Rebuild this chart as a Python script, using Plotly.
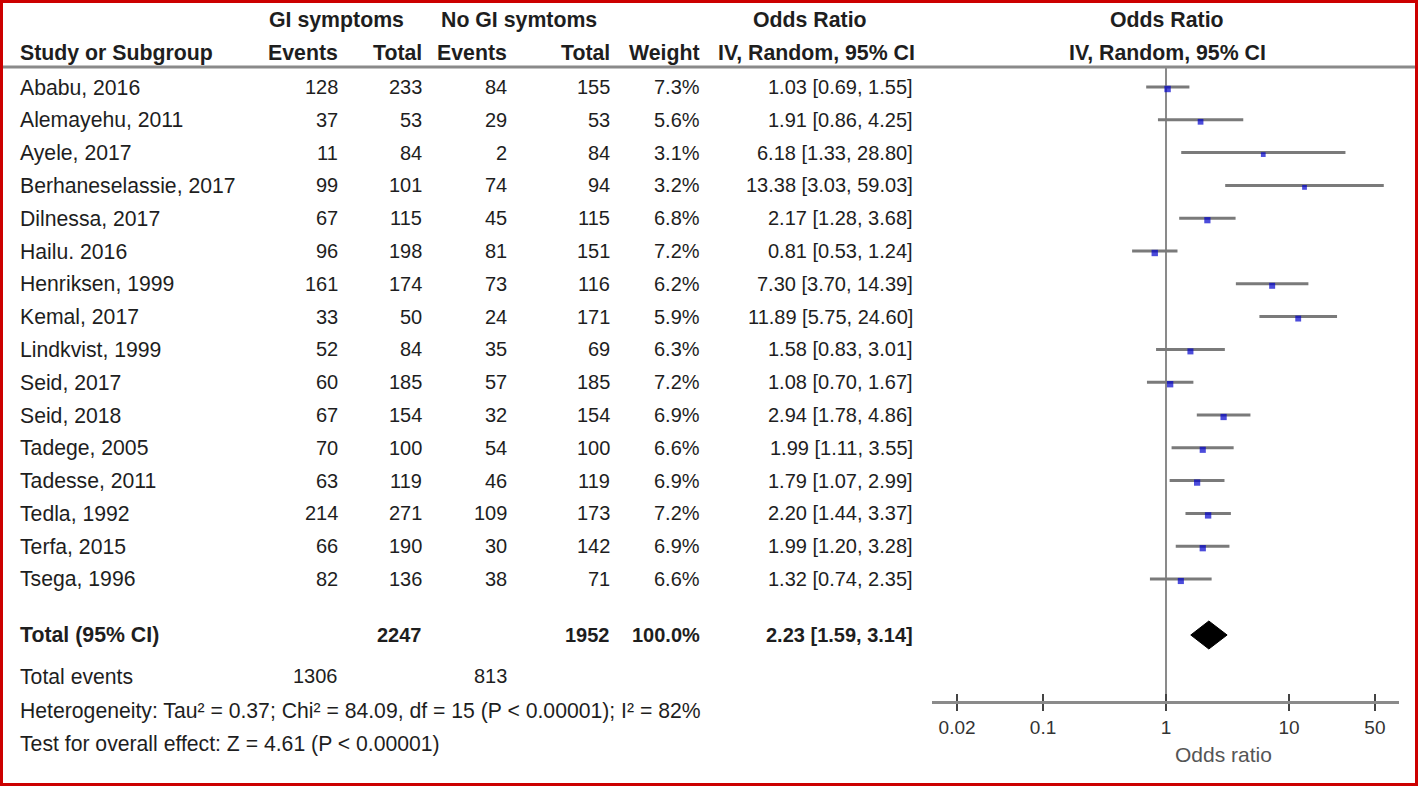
import numpy as np
import plotly.graph_objects as go

# ---- data ----
studies = ["Ababu, 2016", "Alemayehu, 2011", "Ayele, 2017", "Berhaneselassie, 2017",
           "Dilnessa, 2017", "Hailu. 2016", "Henriksen, 1999", "Kemal, 2017",
           "Lindkvist, 1999", "Seid, 2017", "Seid, 2018", "Tadege, 2005",
           "Tadesse, 2011", "Tedla, 1992", "Terfa, 2015", "Tsega, 1996"]
gi_events = [128, 37, 11, 99, 67, 96, 161, 33, 52, 60, 67, 70, 63, 214, 66, 82]
gi_total = [233, 53, 84, 101, 115, 198, 174, 50, 84, 185, 154, 100, 119, 271, 190, 136]
nogi_events = [84, 29, 2, 74, 45, 81, 73, 24, 35, 57, 32, 54, 46, 109, 30, 38]
nogi_total = [155, 53, 84, 94, 115, 151, 116, 171, 69, 185, 154, 100, 119, 173, 142, 71]
weight = [7.3, 5.6, 3.1, 3.2, 6.8, 7.2, 6.2, 5.9, 6.3, 7.2, 6.9, 6.6, 6.9, 7.2, 6.9, 6.6]
odds = [1.03, 1.91, 6.18, 13.38, 2.17, 0.81, 7.30, 11.89, 1.58, 1.08, 2.94, 1.99, 1.79, 2.20, 1.99, 1.32]
ci_lo = [0.69, 0.86, 1.33, 3.03, 1.28, 0.53, 3.70, 5.75, 0.83, 0.70, 1.78, 1.11, 1.07, 1.44, 1.20, 0.74]
ci_hi = [1.55, 4.25, 28.80, 59.03, 3.68, 1.24, 14.39, 24.60, 3.01, 1.67, 4.86, 3.55, 2.99, 3.37, 3.28, 2.35]

total_gi, total_nogi = 2247, 1952
total_weight = 100.0
events_gi, events_nogi = 1306, 813
pooled_or, pooled_lo, pooled_hi = 2.23, 1.59, 3.14
heterogeneity = "Heterogeneity: Tau² = 0.37; Chi² = 84.09, df = 15 (P < 0.00001); I² = 82%"
overall = "Test for overall effect: Z = 4.61 (P < 0.00001)"

tick_vals = [0.02, 0.1, 1, 10, 50]
tick_text = ["0.02", "0.1", "1", "10", "50"]

# ---- layout helpers (pixel coords) ----
W, H = 1418, 786
FONT = "Liberation Sans, Arial, sans-serif"
TXT = "#1e1e1e"
row_y = [87 + i * 32.8 for i in range(len(studies))]
y_total, y_events, y_het, y_test = 635, 676, 711, 744
y_axis = 702

fig = go.Figure()
ann = []


def txt(x, y, s, anchor="right", bold=False, color=TXT, size=20):
    ann.append(dict(x=x / W, y=y, xref="paper", yref="y", text=f"<b>{s}</b>" if bold else s,
                    showarrow=False, xanchor=anchor, yanchor="middle",
                    font=dict(family=FONT, size=size, color=color)))


# headers
HB = 21.3
txt(336, 20, "GI symptoms", "center", True, size=HB)
txt(519, 20, "No GI symtoms", "center", True, size=HB)
txt(810, 20, "Odds Ratio", "center", True, size=HB)
txt(1167, 20, "Odds Ratio", "center", True, size=HB)
txt(18, 53, "Study or Subgroup", "left", True, size=HB)
txt(340, 53, "Events", bold=True, size=HB)
txt(424, 53, "Total", bold=True, size=HB)
txt(509, 53, "Events", bold=True, size=HB)
txt(612, 53, "Total", bold=True, size=HB)
txt(702, 53, "Weight", bold=True, size=HB)
txt(917, 53, "IV, Random, 95% CI", bold=True, size=HB)
txt(1167, 53, "IV, Random, 95% CI", "center", True, size=HB)

for i, y in enumerate(row_y):
    txt(18, y, studies[i], "left", size=21.2)
    txt(340, y, str(gi_events[i]))
    txt(424, y, str(gi_total[i]))
    txt(509, y, str(nogi_events[i]))
    txt(612, y, str(nogi_total[i]))
    txt(702, y, f"{weight[i]:.1f}%")
    txt(915, y, f"{odds[i]:.2f} [{ci_lo[i]:.2f}, {ci_hi[i]:.2f}]")

txt(18, y_total, "Total (95% CI)", "left", True, size=HB)
txt(424, y_total, str(total_gi), bold=True)
txt(612, y_total, str(total_nogi), bold=True)
txt(702, y_total, f"{total_weight:.1f}%", bold=True)
txt(915, y_total, f"{pooled_or:.2f} [{pooled_lo:.2f}, {pooled_hi:.2f}]", bold=True)
txt(18, y_events, "Total events", "left", size=21.2)
txt(340, y_events, str(events_gi))
txt(509, y_events, str(events_nogi))
txt(18, y_het, heterogeneity, "left", size=21.2)
txt(18, y_test, overall, "left", size=21.2)
txt(1223, 754, "Odds ratio", "center", color="#555", size=21)

# no-effect line
fig.add_trace(go.Scatter(x=[1, 1], y=[67, y_axis], mode="lines",
                         line=dict(color="#8a8a8a", width=2), hoverinfo="skip"))

# CI whiskers
cx, cy = [], []
for lo, hi, y in zip(ci_lo, ci_hi, row_y):
    cx += [lo, hi, None]
    cy += [y, y, None]
fig.add_trace(go.Scatter(x=cx, y=cy, mode="lines", line=dict(color="#7a7a7a", width=3),
                         hoverinfo="skip"))

# study squares
fig.add_trace(go.Scatter(x=odds, y=[y + 2 for y in row_y], mode="markers",
                         marker=dict(symbol="square", color="#0000cc",
                                     size=[3.5 + 0.4 * w for w in weight], line_width=0),
                         text=studies, hoverinfo="text+x"))

# pooled diamond
fig.add_trace(go.Scatter(x=[pooled_lo, pooled_or, pooled_hi, pooled_or, pooled_lo],
                         y=[y_total, y_total - 14, y_total, y_total + 14, y_total],
                         mode="lines", fill="toself", fillcolor="black",
                         line=dict(color="black", width=1), hoverinfo="skip"))

xr = [np.log10(0.0125), np.log10(78.5)]
dom = [932 / W, 1399 / W]
pos = 1 - y_axis / H
common = dict(type="log", range=xr, domain=dom, anchor="free", position=pos,
              tickvals=tick_vals, ticktext=tick_text, showgrid=False, zeroline=False,
              showline=True, linecolor="#8a8a8a", linewidth=3,
              ticklen=7, tickwidth=2, tickcolor="#444")

fig.update_layout(
    width=W, height=H,
    margin=dict(l=0, r=0, t=0, b=0),
    paper_bgcolor="white", plot_bgcolor="white",
    showlegend=False,
    xaxis=dict(**common, ticks="outside",
               tickfont=dict(family=FONT, size=19, color="#333")),
    xaxis2=dict(**common, ticks="inside", showticklabels=False, overlaying="x"),
    yaxis=dict(range=[H, 0], domain=[0, 1], visible=False, fixedrange=True),
    annotations=ann,
    shapes=[
        # header rule
        dict(type="line", xref="paper", yref="y", x0=3 / W, x1=1415 / W, y0=67, y1=67,
             line=dict(color="#8a8a8a", width=3)),
        # red frame
        dict(type="rect", xref="paper", yref="paper", x0=0, x1=1, y0=0, y1=1,
             line=dict(color="#cc0000", width=6)),
    ],
)
# dummy trace so xaxis2 is drawn
fig.add_trace(go.Scatter(x=[1], y=[-50], xaxis="x2", mode="markers",
                         marker=dict(opacity=0), hoverinfo="skip"))

fig.write_html("out.html", config={"displayModeBar": False},
               post_script="document.body.style.margin='0';")
